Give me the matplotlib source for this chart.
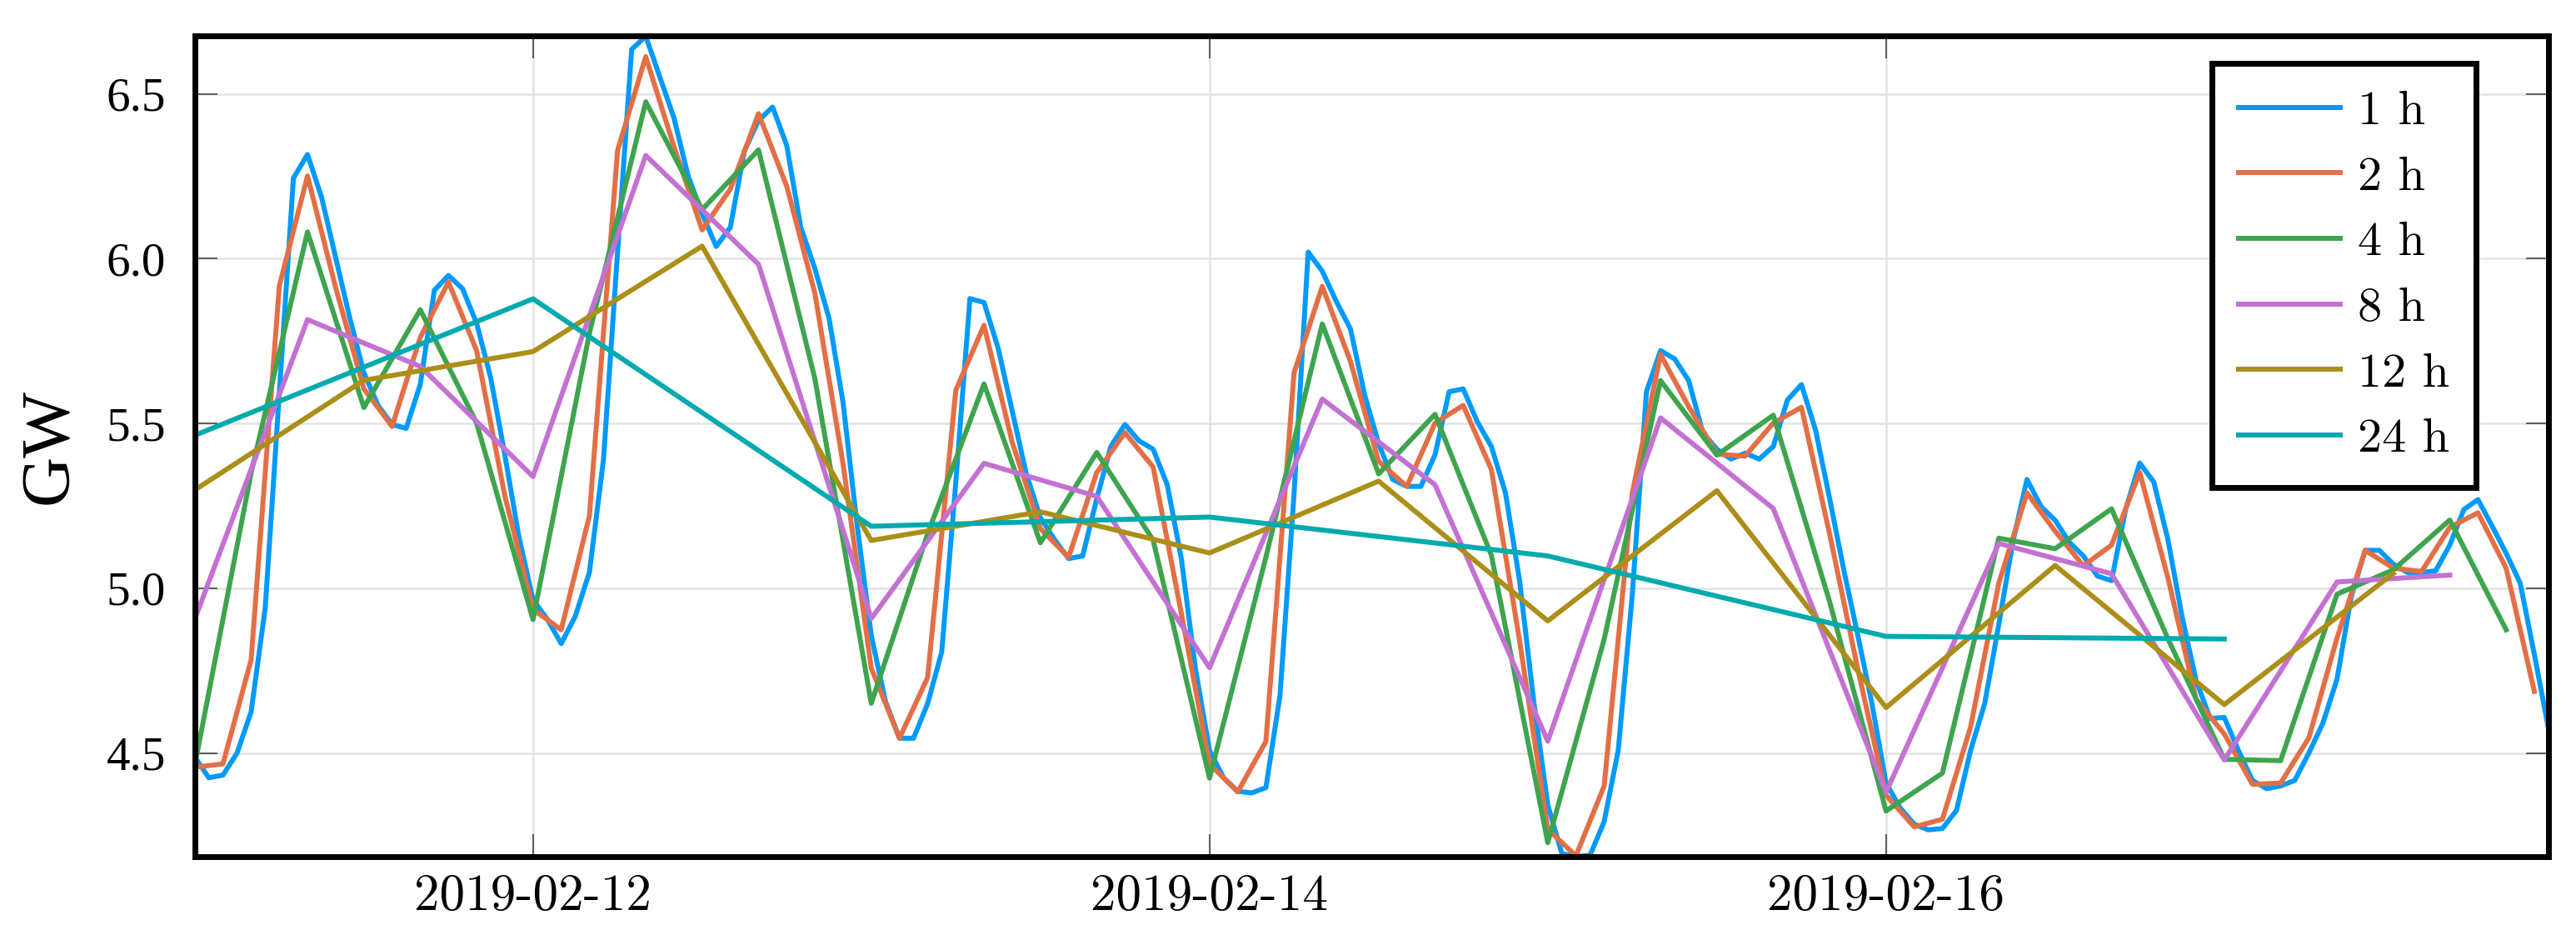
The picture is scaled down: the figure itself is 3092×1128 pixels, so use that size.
import pandas as pd
import matplotlib
matplotlib.use("Agg")
import matplotlib.pyplot as plt
import matplotlib.dates as mdates

# load in GW, averaged over different window lengths, starting 2019-02-11 00:00
start = "2019-02-11 00:00"

load_1h = [
    4.488, 4.425, 4.433, 4.500, 4.625, 4.940, 5.590, 6.244, 6.316, 6.186, 6.003, 5.820,
    5.654, 5.555, 5.497, 5.485, 5.618, 5.904, 5.949, 5.909, 5.804, 5.638, 5.405, 5.156,
    4.965, 4.907, 4.832, 4.915, 5.048, 5.390, 6.020, 6.635, 6.675, 6.551, 6.427, 6.252,
    6.136, 6.037, 6.095, 6.327, 6.419, 6.460, 6.344, 6.095, 5.970, 5.820, 5.563, 5.190,
    4.857, 4.658, 4.545, 4.545, 4.650, 4.807, 5.322, 5.879, 5.867, 5.729, 5.538, 5.347,
    5.214, 5.148, 5.090, 5.098, 5.272, 5.430, 5.497, 5.447, 5.422, 5.314, 5.090, 4.757,
    4.508, 4.425, 4.384, 4.379, 4.395, 4.674, 5.288, 6.020, 5.962, 5.870, 5.787, 5.588,
    5.439, 5.330, 5.309, 5.309, 5.405, 5.596, 5.605, 5.505, 5.430, 5.289, 5.023, 4.658,
    4.342, 4.195, 4.186, 4.190, 4.292, 4.508, 4.982, 5.596, 5.721, 5.696, 5.630, 5.472,
    5.422, 5.392, 5.410, 5.392, 5.430, 5.571, 5.618, 5.480, 5.272, 5.056, 4.857, 4.650,
    4.409, 4.334, 4.284, 4.267, 4.271, 4.326, 4.508, 4.650, 4.890, 5.140, 5.330, 5.248,
    5.206, 5.140, 5.098, 5.037, 5.023, 5.239, 5.380, 5.322, 5.148, 4.915, 4.720, 4.605,
    4.608, 4.508, 4.417, 4.392, 4.400, 4.417, 4.500, 4.591, 4.724, 4.973, 5.115, 5.115,
    5.073, 5.048, 5.048, 5.053, 5.131, 5.239, 5.269, 5.189, 5.106, 5.015, 4.799, 4.575,
]

load_2h = [
    4.457, 4.467, 4.783, 5.917, 6.251, 5.912, 5.605, 5.491, 5.761, 5.929, 5.721, 5.281,
    4.936, 4.874, 5.219, 6.328, 6.613, 6.340, 6.087, 6.211, 6.440, 6.220, 5.895, 5.377,
    4.758, 4.545, 4.729, 5.601, 5.798, 5.443, 5.181, 5.094, 5.351, 5.472, 5.368, 4.924,
    4.467, 4.382, 4.535, 5.654, 5.916, 5.688, 5.385, 5.309, 5.501, 5.555, 5.360, 4.841,
    4.269, 4.188, 4.400, 5.289, 5.709, 5.551, 5.407, 5.401, 5.501, 5.549, 5.164, 4.754,
    4.372, 4.276, 4.299, 4.579, 5.015, 5.289, 5.173, 5.068, 5.131, 5.351, 5.032, 4.663,
    4.558, 4.405, 4.409, 4.546, 4.849, 5.115, 5.061, 5.051, 5.185, 5.229, 5.061, 4.687,
]

load_4h = [
    4.462, 5.350, 6.081, 5.548, 5.845, 5.501,
    4.905, 5.773, 6.476, 6.149, 6.330, 5.636,
    4.651, 5.165, 5.620, 5.138, 5.412, 5.146,
    4.424, 5.094, 5.802, 5.347, 5.528, 5.100,
    4.228, 4.845, 5.630, 5.404, 5.525, 4.959,
    4.324, 4.439, 5.152, 5.120, 5.241, 4.847,
    4.481, 4.477, 4.982, 5.056, 5.207, 4.874,
]

load_8h = [
    4.906, 5.815, 5.673, 5.339, 6.313, 5.983, 4.908, 5.379, 5.279, 4.759, 5.574,
    5.314, 4.536, 5.517, 5.242, 4.381, 5.136, 5.044, 4.479, 5.019, 5.040,
]

load_12h = [5.298, 5.631, 5.718, 6.038, 5.145, 5.232, 5.107, 5.325, 4.901, 5.296, 4.638, 5.069, 4.647, 5.045]

load_24h = [5.464, 5.878, 5.188, 5.216, 5.098, 4.854, 4.846]

windows = [1, 2, 4, 8, 12, 24]
labels = ["1 h", "2 h", "4 h", "8 h", "12 h", "24 h"]
colors = ["#009AFA", "#E36F47", "#3EA44E", "#C371D2", "#AC8E18", "#00AAAE"]
xtick_dates = ["2019-02-12", "2019-02-14", "2019-02-16"]
yticks = [4.5, 5.0, 5.5, 6.0, 6.5]

series = [load_1h, load_2h, load_4h, load_8h, load_12h, load_24h]

fig = plt.figure(figsize=(15.46, 5.64), dpi=200)
ax = fig.add_axes([0.0756, 0.0888, 0.9137, 0.8727])

for vals, w, lab, col in zip(series, windows, labels, colors):
    t = pd.date_range(start, periods=len(vals), freq=f"{w}h")
    ax.plot(t, vals, color=col, lw=2.15, label=lab)

t1 = pd.date_range(start, periods=len(load_1h), freq="1h")
ax.set_xlim(t1[0], t1[-1])
ax.set_ylim(min(load_1h), max(load_1h))

ax.set_xticks(pd.to_datetime(xtick_dates))
ax.xaxis.set_major_formatter(mdates.DateFormatter("%Y-%m-%d"))
ax.set_yticks(yticks)
ax.set_yticklabels([f"{v:.1f}" for v in yticks])

ax.grid(True, color="#e2e2e2", lw=0.9)
ax.set_axisbelow(True)
for sp in ax.spines.values():
    sp.set_linewidth(2.5)
    sp.set_color("black")

ax.tick_params(direction="in", length=9.7, width=0.6, color="#444444",
               top=True, right=True)
ax.tick_params(axis="x", pad=7.5)
ax.tick_params(axis="y", pad=12.5)
for lbl in ax.get_xticklabels():
    lbl.set_fontfamily("cmr10")
    lbl.set_fontsize(22)
for lbl in ax.get_yticklabels():
    lbl.set_fontfamily("Liberation Serif")
    lbl.set_fontsize(20.5)

ax.set_ylabel("GW", fontfamily="Liberation Serif", fontsize=30)
ax.yaxis.set_label_coords(-0.048, 0.5)

leg = ax.legend(loc="upper right", bbox_to_anchor=(0.9692, 0.9669), borderaxespad=0,
                prop={"family": "cmr10", "size": 21}, handlelength=2.1,
                handletextpad=0.35, labelspacing=0.46, borderpad=0.55,
                fancybox=False, framealpha=1, edgecolor="black")
leg.get_frame().set_linewidth(2.5)

fig.savefig("out.png", dpi=200)
